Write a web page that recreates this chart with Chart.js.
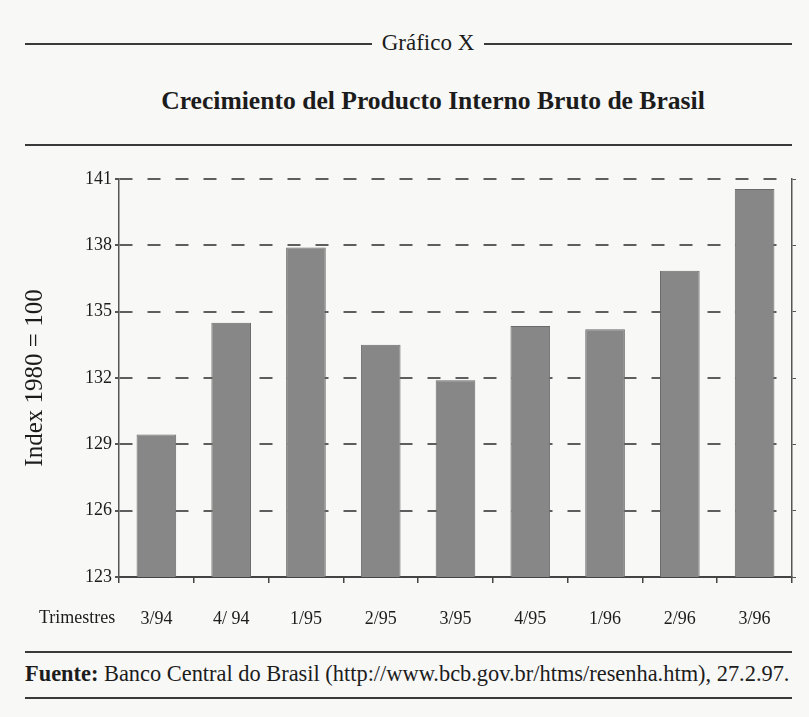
<!DOCTYPE html>
<html>
<head>
<meta charset="utf-8">
<script src="https://cdn.jsdelivr.net/npm/chart.js@4"></script>
<style>
  html, body { margin:0; padding:0; background:#f8f8f7; }
  body { width:809px; height:717px; position:relative; overflow:hidden; font-family:"Liberation Serif", "DejaVu Serif", serif; color:#1c1c1c; }
  .rule { position:absolute; height:0; border-top:2px solid #3a3a3a; }
  #gx { position:absolute; top:28px; left:372px; width:112px; text-align:center; font-size:23px; line-height:30px; }
  #title { position:absolute; top:86px; left:0; width:866px; text-align:center; font-size:25.6px; font-weight:bold; line-height:30px; }
  #src { position:absolute; top:660px; left:25px; width:780px; font-size:22.4px; line-height:28px; white-space:nowrap; }
  #wrap { position:absolute; top:150px; left:0; width:809px; height:495px; }
</style>
</head>
<body>
<div class="rule" style="top:43px;left:25px;width:347px"></div>
<div id="gx">Gráfico X</div>
<div class="rule" style="top:43px;left:484px;width:308px"></div>
<div id="title">Crecimiento del Producto Interno Bruto de Brasil</div>
<div class="rule" style="top:144px;left:25px;width:767px"></div>
<div id="wrap"><canvas id="c"></canvas></div>
<div class="rule" style="top:651px;left:25px;width:767px"></div>
<div id="src"><b>Fuente:</b> Banco Central do Brasil (http://www.bcb.gov.br/htms/resenha.htm), 27.2.97.</div>
<div class="rule" style="top:697px;left:25px;width:767px"></div>
<script>
const categories = ["3/94", "4/ 94", "1/95", "2/95", "3/95", "4/95", "1/96", "2/96", "3/96"];
const pibIndex = [129.45, 134.5, 137.9, 133.5, 131.9, 134.35, 134.2, 136.85, 140.55];
const yTicks = [123, 126, 129, 132, 135, 138, 141];
const xAxisName = "Trimestres";
const yAxisName = "Index 1980 = 100";

const serif = "'Liberation Serif', 'DejaVu Serif', serif";

const trimestrePlugin = {
  id: 'trimestres',
  afterDraw(chart) {
    const ctx = chart.ctx;
    const x = chart.scales.x;
    ctx.save();
    ctx.font = "18px " + serif;
    ctx.fillStyle = "#1c1c1c";
    ctx.textAlign = "left";
    ctx.textBaseline = "middle";
    ctx.fillText(xAxisName, 39, x.top + 41);
    ctx.restore();
  }
};

new Chart(document.getElementById('c'), {
  type: 'bar',
  data: {
    labels: categories,
    datasets: [{
      data: pibIndex,
      backgroundColor: '#878787',
      borderColor: '#6a6a6a',
      borderWidth: 1,
      barPercentage: 0.53,
      categoryPercentage: 1.0
    }]
  },
  options: {
    responsive: true,
    maintainAspectRatio: false,
    animation: false,
    layout: { padding: { top: 29, left: 0, right: 0, bottom: 0 } },
    plugins: { legend: { display: false }, tooltip: { enabled: false } },
    scales: {
      x: {
        grid: { offset: true, drawOnChartArea: false, tickLength: 6, color: '#444', lineWidth: 1.5 },
        border: { display: true, color: '#444', width: 2 },
        ticks: { padding: 25, color: '#1c1c1c', font: { family: serif, size: 18 } },
        afterFit(s) { s.height = 68; }
      },
      y: {
        min: 123, max: 141,
        afterBuildTicks(s) { s.ticks = yTicks.map(v => ({ value: v })); },
        grid: { color: '#5e5e5e', lineWidth: 2, tickLength: 4, tickColor: '#555', tickBorderDash: [] },
        border: { display: true, color: '#555', width: 1.5, dash: [13, 15] },
        ticks: { padding: 3, color: '#1c1c1c', font: { family: serif, size: 18 } },
        title: { display: true, text: yAxisName, color: '#1c1c1c', font: { family: serif, size: 25 }, padding: { top: 20, bottom: 0 } },
        afterFit(s) { s.width = 119; }
      },
      y2: {
        position: 'right',
        min: 123, max: 141,
        afterBuildTicks(s) { s.ticks = yTicks.map(v => ({ value: v })); },
        grid: { drawOnChartArea: false, tickLength: 4, color: '#555' },
        border: { display: true, color: '#555', width: 1.5 },
        ticks: { display: false },
        afterFit(s) { s.width = 17; }
      }
    }
  },
  plugins: [trimestrePlugin]
});
</script>
</body>
</html>
